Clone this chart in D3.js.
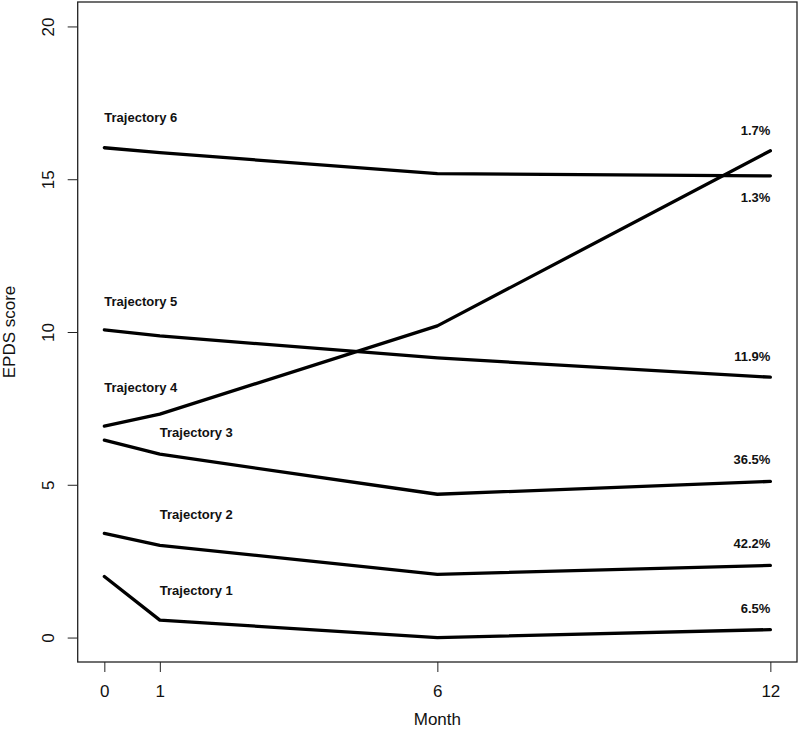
<!DOCTYPE html>
<html>
<head>
<meta charset="utf-8">
<script src="https://cdn.jsdelivr.net/npm/d3@7"></script>
<style>
    body { margin: 0; background: white; }
    text { font-family: "Liberation Sans", Arial, Helvetica, sans-serif; }
</style>
</head>
<body>
<div class="chart"></div>
<script>
// months where EPDS was measured
var months = [0, 1, 6, 12];

// mean EPDS score per trajectory at each month
var traj1 = [2.0, 0.57, 0.0, 0.26];
var traj2 = [3.41, 3.02, 2.07, 2.36];
var traj3 = [6.46, 6.0, 4.69, 5.11];
var traj4 = [6.92, 7.31, 10.2, 15.93];
var traj5 = [10.07, 9.87, 9.15, 8.52];
var traj6 = [16.03, 15.87, 15.18, 15.11];
var trajectories = [traj1, traj2, traj3, traj4, traj5, traj6];

// trajectory names and where they are written (month, score)
var names = ["Trajectory 1", "Trajectory 2", "Trajectory 3",
             "Trajectory 4", "Trajectory 5", "Trajectory 6"];
var nameX = [1, 1, 1, 0, 0, 0];
var nameY = [1.53, 4.04, 6.71, 8.2, 11.02, 17.02];

// share of women per trajectory, written at month 12
var shares = ["6.5%", "42.2%", "36.5%", "1.7%", "11.9%", "1.3%"];
var shareY = [0.95, 3.08, 5.83, 16.61, 9.2, 14.4];

// tick labels
var xTicks = [0, 1, 6, 12];
var yTicks = [0, 5, 10, 15, 20];

function drawChart() {
    const width = 800;
    const height = 730;
    const margin = {top: 2, bottom: 68, right: 3, left: 77.7};

    const svg = d3.select(".chart")
                  .append("svg")
                  .attr("width", width)
                  .attr("height", height);

    // R style scales, padded 4% on each side
    var xScale = d3.scaleLinear()
                   .domain([-0.48, 12.48])
                   .range([margin.left, width - margin.right]);

    var yScale = d3.scaleLinear()
                   .domain([-0.8, 20.8])
                   .range([height - margin.bottom, margin.top]);

    // x axis
    const xAxis = d3.axisBottom(xScale)
                    .tickValues(xTicks)
                    .tickSize(10)
                    .tickSizeOuter(0)
                    .tickPadding(13);

    var gx = svg.append("g")
                .attr("transform", "translate(0," + (height - margin.bottom) + ")")
                .call(xAxis);
    gx.select(".domain").remove();
    gx.selectAll("line").attr("stroke", "#222").attr("stroke-width", 1);
    gx.selectAll("text")
      .attr("font-size", 17)
      .attr("font-family", "Liberation Sans, Arial, sans-serif")
      .attr("fill", "#111");

    // y axis, labels turned like R does
    const yAxis = d3.axisLeft(yScale)
                    .tickValues(yTicks)
                    .tickSize(10)
                    .tickSizeOuter(0);

    var gy = svg.append("g")
                .attr("transform", "translate(" + margin.left + ",0)")
                .call(yAxis);
    gy.select(".domain").remove();
    gy.selectAll("line").attr("stroke", "#222").attr("stroke-width", 1);
    gy.selectAll("text")
      .attr("x", 0)
      .attr("dy", 0)
      .attr("text-anchor", "middle")
      .attr("transform", "translate(-24,0) rotate(-90)")
      .attr("font-size", 17)
      .attr("font-family", "Liberation Sans, Arial, sans-serif")
      .attr("fill", "#111");

    // box round the plot
    svg.append("rect")
       .attr("x", margin.left)
       .attr("y", margin.top)
       .attr("width", width - margin.right - margin.left)
       .attr("height", height - margin.bottom - margin.top)
       .attr("fill", "none")
       .attr("stroke", "#222")
       .attr("stroke-width", 1.3);

    // the trajectory lines
    var line = d3.line()
                 .x(function(d, i) { return xScale(months[i]); })
                 .y(function(d) { return yScale(d); });

    svg.selectAll(".traj")
       .data(trajectories)
       .enter()
       .append("path")
       .attr("class", "traj")
       .attr("d", line)
       .attr("fill", "none")
       .attr("stroke", "black")
       .attr("stroke-width", 3.3)
       .attr("stroke-linecap", "round")
       .attr("stroke-linejoin", "round");

    // trajectory names
    svg.selectAll(".name")
       .data(names)
       .enter()
       .append("text")
       .attr("class", "name")
       .attr("x", function(d, i) { return xScale(nameX[i]); })
       .attr("y", function(d, i) { return yScale(nameY[i]); })
       .attr("dy", "0.36em")
       .attr("font-size", 13)
       .attr("font-weight", "bold")
       .attr("fill", "#111")
       .text(function(d) { return d; });

    // percentages at the right
    svg.selectAll(".share")
       .data(shares)
       .enter()
       .append("text")
       .attr("class", "share")
       .attr("x", xScale(12))
       .attr("y", function(d, i) { return yScale(shareY[i]); })
       .attr("dy", "0.36em")
       .attr("text-anchor", "end")
       .attr("font-size", 13)
       .attr("font-weight", "bold")
       .attr("fill", "#111")
       .text(function(d) { return d; });

    // axis titles
    svg.append("text")
       .attr("x", (margin.left + width - margin.right) / 2)
       .attr("y", 725)
       .attr("text-anchor", "middle")
       .attr("font-size", 17)
       .attr("fill", "#111")
       .text("Month");

    svg.append("text")
       .attr("transform", "translate(15," + ((margin.top + height - margin.bottom) / 2) + ") rotate(-90)")
       .attr("text-anchor", "middle")
       .attr("font-size", 17)
       .attr("fill", "#111")
       .text("EPDS score");
}

drawChart();
</script>
</body>
</html>
